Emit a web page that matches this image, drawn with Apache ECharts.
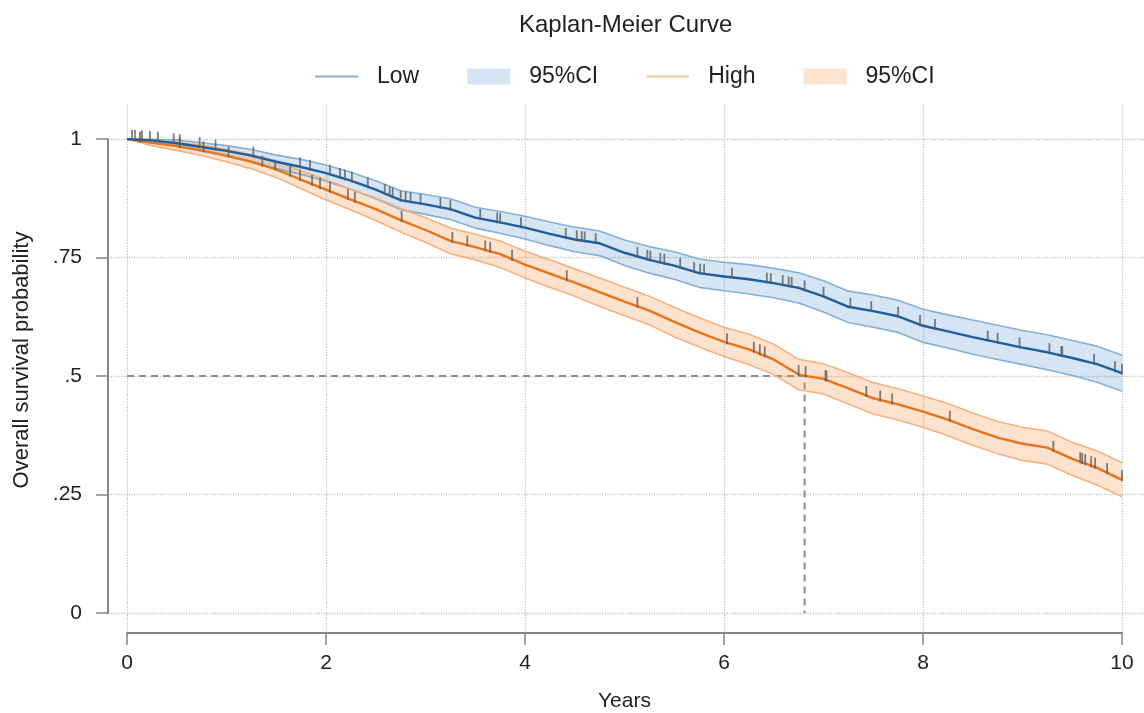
<!DOCTYPE html>
<html>
<head>
<meta charset="utf-8">
<script src="https://cdn.jsdelivr.net/npm/echarts@6/dist/echarts.min.js"></script>
<style>
html,body{margin:0;padding:0;background:#fff;}
#chart{width:1144px;height:713px;}
</style>
</head>
<body>
<div id="chart"></div>
<script>
// ---- data ----
const years = [0,0.25,0.5,0.75,1,1.25,1.5,1.75,2,2.25,2.5,2.75,3,3.25,3.5,3.75,4,4.25,4.5,4.75,5,5.25,5.5,5.75,6,6.25,6.5,6.75,7,7.25,7.5,7.75,8,8.25,8.5,8.75,9,9.25,9.5,9.75,10];

const lowSurv  = [1.000,0.997,0.991,0.983,0.975,0.965,0.952,0.941,0.928,0.912,0.893,0.871,0.862,0.852,0.834,0.824,0.813,0.800,0.788,0.780,0.760,0.745,0.733,0.717,0.710,0.704,0.696,0.686,0.668,0.646,0.637,0.626,0.606,0.594,0.582,0.571,0.560,0.550,0.538,0.525,0.506];
const lowUpper = [1.000,1.000,0.998,0.992,0.986,0.978,0.966,0.957,0.945,0.930,0.912,0.891,0.883,0.874,0.856,0.847,0.837,0.825,0.814,0.806,0.787,0.773,0.762,0.747,0.740,0.735,0.727,0.718,0.701,0.679,0.671,0.660,0.641,0.629,0.618,0.607,0.596,0.587,0.575,0.563,0.544];
const lowLower = [1.000,0.993,0.984,0.974,0.964,0.952,0.938,0.925,0.911,0.894,0.874,0.851,0.841,0.830,0.812,0.801,0.789,0.775,0.762,0.754,0.733,0.717,0.704,0.687,0.680,0.673,0.665,0.654,0.635,0.613,0.603,0.592,0.571,0.559,0.546,0.535,0.524,0.513,0.501,0.487,0.468];

const highSurv  = [1.000,0.992,0.985,0.976,0.965,0.952,0.936,0.914,0.893,0.872,0.852,0.829,0.808,0.785,0.772,0.757,0.735,0.716,0.697,0.677,0.657,0.638,0.614,0.592,0.572,0.556,0.535,0.503,0.494,0.474,0.453,0.440,0.425,0.408,0.388,0.370,0.357,0.349,0.325,0.306,0.281];
const highUpper = [1.000,0.998,0.994,0.987,0.978,0.967,0.953,0.933,0.914,0.894,0.876,0.854,0.834,0.812,0.799,0.785,0.763,0.745,0.726,0.707,0.687,0.668,0.645,0.623,0.603,0.588,0.567,0.535,0.526,0.507,0.486,0.473,0.458,0.442,0.422,0.404,0.392,0.384,0.360,0.342,0.317];
const highLower = [1.000,0.986,0.976,0.965,0.952,0.937,0.919,0.895,0.872,0.850,0.828,0.804,0.782,0.758,0.745,0.729,0.707,0.687,0.668,0.647,0.627,0.608,0.583,0.561,0.541,0.524,0.503,0.471,0.462,0.441,0.420,0.407,0.392,0.374,0.354,0.336,0.322,0.314,0.290,0.270,0.245];

// censoring times (years)
const lowCensor = [0.05,0.08,0.15,0.23,0.31,0.47,0.53,0.73,0.89,1.27,1.74,1.84,2.04,2.14,2.19,2.26,2.42,2.59,2.64,2.67,2.75,2.80,2.85,2.95,3.15,3.25,3.55,3.72,3.75,3.96,4.41,4.52,4.57,4.60,4.71,5.13,5.23,5.26,5.36,5.40,5.56,5.70,5.76,5.80,6.08,6.43,6.47,6.59,6.65,6.68,6.81,7.00,7.27,7.48,7.75,7.97,8.12,8.65,8.75,8.97,9.27,9.39,9.40,9.72,9.93,10.0];
const highCensor = [0.13,0.53,0.77,1.02,1.36,1.49,1.64,1.74,1.86,1.94,2.04,2.22,2.29,2.76,3.27,3.42,3.60,3.65,3.87,4.42,5.13,6.03,6.30,6.36,6.41,6.75,6.82,7.02,7.03,7.43,7.57,7.69,8.27,9.31,9.58,9.60,9.63,9.69,9.73,9.85,10.0];

// median survival of the High group
const medianHigh = 6.81;
const medianLevel = 0.5;

const yTickLabels = {0:'0', 0.25:'.25', 0.5:'.5', 0.75:'.75', 1:'1'};

const titleText = 'Kaplan-Meier Curve';
const xName = 'Years';
const yName = 'Overall survival probability';

// ---- helpers ----
function pairs(xs, ys){ return xs.map((x,i)=>[x, ys[i]]); }
function valueAt(xs, ys, t){
  for (let i=0;i<xs.length-1;i++){
    if (t>=xs[i] && t<=xs[i+1]){
      const f=(t-xs[i])/(xs[i+1]-xs[i]);
      return ys[i]+f*(ys[i+1]-ys[i]);
    }
  }
  return ys[ys.length-1];
}
function censorPts(ts, xs, ys){ return ts.map(t=>[t, valueAt(xs, ys, t)]); }
function bandRender(xs, hi, lo, fill){
  return function(params, api){
    const pts = [];
    for (let i=0;i<xs.length;i++) pts.push(api.coord([xs[i], hi[i]]));
    for (let i=xs.length-1;i>=0;i--) pts.push(api.coord([xs[i], lo[i]]));
    return {type:'polygon', shape:{points:pts}, style:{fill: fill}};
  };
}

const FONT = 'Liberation Sans, Arial, Helvetica, sans-serif';
const BLUE = '#1d5f9f';
const ORANGE = '#e9731b';
const BLUE_FILL = 'rgba(100,160,215,0.27)';
const ORANGE_FILL = 'rgba(248,150,80,0.28)';
const BLUE_EDGE = '#86afd6';
const ORANGE_EDGE = '#f6b27f';
const AXIS = '#858585';
const GRIDC = '#c4c4c4';
const LINE_ICON = 'path://M0,0L0,0M0,7L43,7L43,9L0,9ZM43,16L43,16';

const chart = echarts.init(document.getElementById('chart'), null, {renderer:'canvas'});

const option = {
  animation: false,
  backgroundColor: '#fff',
  textStyle: {fontFamily: FONT},
  title: {
    text: titleText, left: 514, top: 8,
    textStyle: {fontSize: 24, fontWeight: 'normal', color: '#222', fontFamily: FONT}
  },
  legend: {
    left: 310, top: 60,
    itemWidth: 43, itemHeight: 16, itemGap: 48,
    selectedMode: false,
    formatter: n => n.trim(),
    textStyle: {fontSize: 23, color: '#222', fontFamily: FONT, padding: [0,0,0,14]},
    data: [
      {name: 'Low', icon: LINE_ICON, itemStyle: {color: '#8eaecd'}},
      {name: '95%CI', icon: 'rect', itemStyle: {color: BLUE_FILL}},
      {name: 'High', icon: LINE_ICON, itemStyle: {color: '#f4c49d'}},
      {name: '95%CI ', icon: 'rect', itemStyle: {color: ORANGE_FILL}}
    ]
  },
  grid: [
    {left: 127, right: 22, top: 139, bottom: 100, outerBoundsMode: 'none', containLabel: false},
    {left: 127, right: 22, top: 105, bottom: 80, outerBoundsMode: 'none', containLabel: false},
    {left: 108, right: 0, top: 139, bottom: 100, outerBoundsMode: 'none', containLabel: false}
  ],
  xAxis: [
    {
      gridIndex: 0, type: 'value', min: 0, max: 10, interval: 2, offset: 20,
      axisLine: {show: true, onZero: false, lineStyle: {color: AXIS, width: 2}},
      axisTick: {show: true, length: 12, lineStyle: {color: AXIS, width: 1.5}},
      axisLabel: {fontSize: 21, color: '#222', margin: 20, fontFamily: FONT},
      splitLine: {show: false},
      name: xName, nameLocation: 'middle', nameGap: 58,
      nameTextStyle: {fontSize: 21, color: '#222', fontFamily: FONT}
    },
    {
      gridIndex: 1, type: 'value', min: 0, max: 10, interval: 2,
      axisLine: {show: false}, axisTick: {show: false}, axisLabel: {show: false},
      splitLine: {show: true, lineStyle: {color: GRIDC, type: 'dotted', width: 1.3}}
    },
    {gridIndex: 2, type: 'value', min: 0, max: 10, show: false}
  ],
  yAxis: [
    {
      gridIndex: 0, type: 'value', min: 0, max: 1, interval: 0.25, offset: 19,
      axisLine: {show: true, onZero: false, lineStyle: {color: AXIS, width: 2}},
      axisTick: {show: true, length: 12, lineStyle: {color: AXIS, width: 1.5}},
      axisLabel: {fontSize: 21, color: '#222', margin: 26, fontFamily: FONT,
        formatter: v => (yTickLabels[v] !== undefined ? yTickLabels[v] : '')},
      splitLine: {show: false},
      name: yName, nameLocation: 'middle', nameGap: 75, nameRotate: 90,
      nameTextStyle: {fontSize: 22, color: '#222', fontFamily: FONT, padding: [0,0,0,32]}
    },
    {gridIndex: 1, type: 'value', min: 0, max: 1, show: false},
    {
      gridIndex: 2, type: 'value', min: 0, max: 1, interval: 0.25,
      axisLine: {show: false}, axisTick: {show: false}, axisLabel: {show: false},
      splitLine: {show: true, lineStyle: {color: GRIDC, type: 'dotted', width: 1.3}}
    }
  ],
  series: [
    {
      name: 'median', type: 'line', xAxisIndex: 0, yAxisIndex: 0,
      data: [[0, medianLevel], [medianHigh, medianLevel], [medianHigh, 0]],
      symbol: 'none', silent: true, z: 1,
      lineStyle: {color: '#8c8c8c', width: 2, type: [7, 5]}
    },
    // CI bands
    {
      name: '95%CI', type: 'custom', coordinateSystem: 'cartesian2d',
      data: [[years[0], lowUpper[0]]], silent: true, z: 2,
      itemStyle: {color: BLUE_FILL},
      renderItem: bandRender(years, lowUpper, lowLower, BLUE_FILL)
    },
    {
      name: '95%CI ', type: 'custom', coordinateSystem: 'cartesian2d',
      data: [[years[0], highUpper[0]]], silent: true, z: 2,
      itemStyle: {color: ORANGE_FILL},
      renderItem: bandRender(years, highUpper, highLower, ORANGE_FILL)
    },
    // band edges
    {name: 'lowUp', type: 'line', data: pairs(years, lowUpper), symbol: 'none', silent: true, z: 2,
     lineStyle: {color: BLUE_EDGE, width: 1.6}},
    {name: 'lowLo', type: 'line', data: pairs(years, lowLower), symbol: 'none', silent: true, z: 2,
     lineStyle: {color: BLUE_EDGE, width: 1.6}},
    {name: 'highUp', type: 'line', data: pairs(years, highUpper), symbol: 'none', silent: true, z: 2,
     lineStyle: {color: ORANGE_EDGE, width: 1.6}},
    {name: 'highLo', type: 'line', data: pairs(years, highLower), symbol: 'none', silent: true, z: 2,
     lineStyle: {color: ORANGE_EDGE, width: 1.6}},
    {
      name: 'High', type: 'line', data: pairs(years, highSurv),
      symbol: 'none', silent: true, z: 3,
      itemStyle: {color: ORANGE},
      lineStyle: {color: ORANGE, width: 2.4}
    },
    {
      name: 'Low', type: 'line', data: pairs(years, lowSurv),
      symbol: 'none', silent: true, z: 3,
      itemStyle: {color: BLUE},
      lineStyle: {color: BLUE, width: 2.4}
    },
    {
      name: 'lowCens', type: 'scatter', data: censorPts(lowCensor, years, lowSurv),
      symbol: 'rect', symbolSize: [1.8, 11], symbolOffset: [0, -4], silent: true, z: 4,
      itemStyle: {color: '#5e5e5e'}
    },
    {
      name: 'highCens', type: 'scatter', data: censorPts(highCensor, years, highSurv),
      symbol: 'rect', symbolSize: [1.8, 11], symbolOffset: [0, -4], silent: true, z: 4,
      itemStyle: {color: '#5e5e5e'}
    }
  ]
};
chart.setOption(option);
</script>
</body>
</html>
